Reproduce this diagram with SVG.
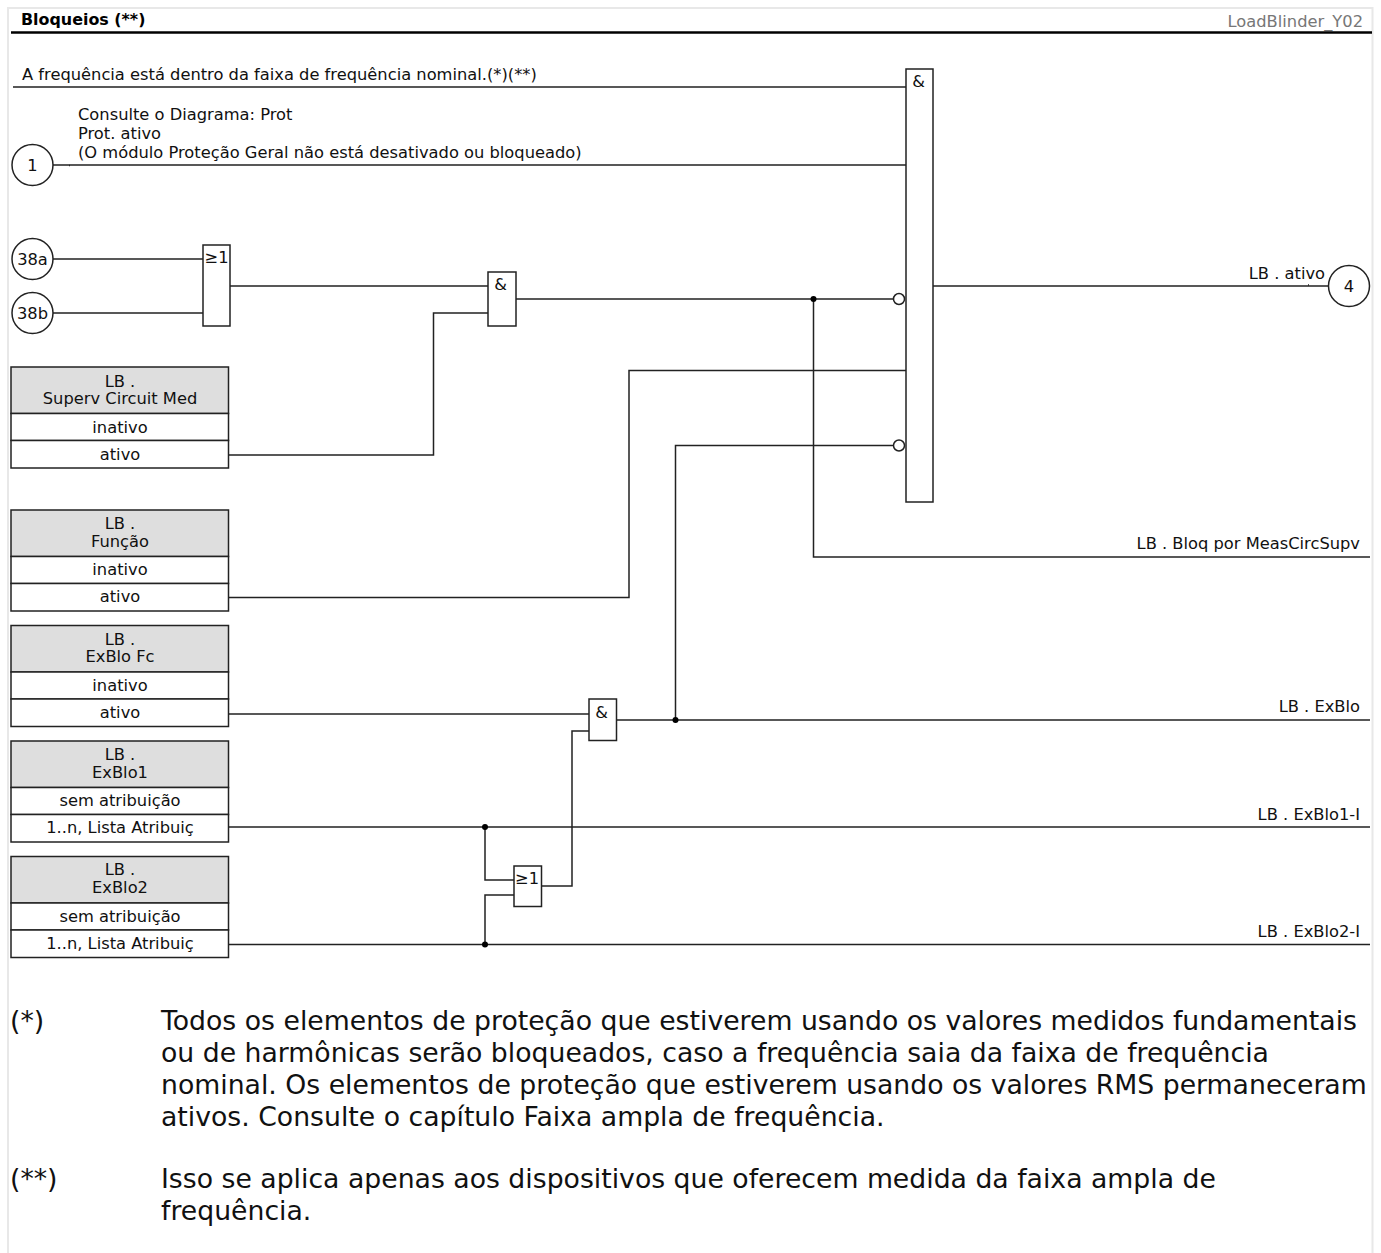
<svg xmlns="http://www.w3.org/2000/svg" width="1381" height="1253" viewBox="0 0 1381 1253">
<style>
text{font-family:"DejaVu Sans",sans-serif;font-size:16.3px;fill:#111}
.m{text-anchor:middle}
.e{text-anchor:end}
.n{font-size:26.7px}
.b{fill:#fff;stroke:#222;stroke-width:1.5}
.h{fill:#dedede;stroke:#222;stroke-width:1.5}
.w{fill:none;stroke:#222;stroke-width:1.5}
.d{fill:#000}
</style>
<defs>
<g id="box">
<rect class="h" x="11" y="0" width="217.500" height="46.500"/>
<rect class="b" x="11" y="46.500" width="217.500" height="27"/>
<rect class="b" x="11" y="73.500" width="217.500" height="27.500"/>
</g>
</defs>
<rect width="1381" height="1253" fill="#fff"/>
<path d="M8 1253V8H1372.500V1253" fill="none" stroke="#e8e8e8" stroke-width="2"/>
<g id="title">
<text x="21" y="25" style="font-weight:bold;font-size:15.9px;fill:#000">Bloqueios (**)</text>
<text x="1363" y="27" class="e" style="fill:#777">LoadBlinder_Y02</text>
<path d="M11 32.500H1372" stroke="#000" stroke-width="2.500"/>
</g>
<g id="connectors">
<path class="w" d="M13 87H906M53 165H906M53 259H203M53 313H203M230 286H488M516 299H893M229 455H433.500V313H488M229 597.500H629V370.500H906M933 286H1328.500M813.500 299V557H1370M229 714H589M617 720H1370M675.500 720V445.500H893M229 827H1370M229 944.500H1370M485 827V880H514M485 944.500V895H514M541.500 886H572V731H589"/>
<path class="w" d="M69 165.500h1M1308 285h1"/>
<circle class="d" cx="813.500" cy="299" r="3"/>
<circle class="d" cx="675.500" cy="720" r="3"/>
<circle class="d" cx="485" cy="827" r="3"/>
<circle class="d" cx="485" cy="944.500" r="3"/>
</g>
<g id="label-freq"><text x="22" y="80">A frequência está dentro da faixa de frequência nominal.(*)(**)</text></g>
<g id="label-prot"><text x="78" y="120">Consulte o Diagrama: Prot</text><text x="78" y="139">Prot. ativo</text><text x="78" y="158">(O módulo Proteção Geral não está desativado ou bloqueado)</text></g>
<g id="c1"><circle class="b" cx="32.500" cy="165" r="20.500"/><text class="m" x="32.500" y="171">1</text></g>
<g id="c38a"><circle class="b" cx="32.500" cy="259" r="20.500"/><text class="m" x="32.500" y="265">38a</text></g>
<g id="c38b"><circle class="b" cx="32.500" cy="313" r="20.500"/><text class="m" x="32.500" y="319">38b</text></g>
<g id="c4"><circle class="b" cx="1349" cy="286" r="20.500"/><text class="m" x="1349" y="292">4</text></g>
<g id="or1"><rect class="b" x="203" y="245" width="27" height="81"/><text class="m" x="216.500" y="263">≥1</text></g>
<g id="and1"><rect class="b" x="488" y="272" width="28" height="54"/><text class="m" x="500.500" y="290">&amp;</text></g>
<g id="and-main"><rect class="b" x="906" y="69" width="27" height="433"/><text class="m" x="918.500" y="87">&amp;</text>
<circle class="b" cx="899" cy="299" r="5.500"/><circle class="b" cx="899" cy="445.500" r="5.500"/></g>
<g id="and2"><rect class="b" x="589" y="699" width="27.500" height="41.500"/><text class="m" x="601.500" y="718">&amp;</text></g>
<g id="or2"><rect class="b" x="514" y="866" width="27.500" height="40.500"/><text class="m" x="527" y="884">≥1</text></g>
<g id="box-superv"><use href="#box" y="367"/><text class="m" x="120" y="386.500">LB .</text><text class="m" x="120" y="404">Superv Circuit Med</text><text class="m" x="120" y="433">inativo</text><text class="m" x="120" y="460">ativo</text></g>
<g id="box-funcao"><use href="#box" y="510"/><text class="m" x="120" y="529">LB .</text><text class="m" x="120" y="547">Função</text><text class="m" x="120" y="575">inativo</text><text class="m" x="120" y="602">ativo</text></g>
<g id="box-exblofc"><use href="#box" y="625.500"/><text class="m" x="120" y="644.500">LB .</text><text class="m" x="120" y="662">ExBlo Fc</text><text class="m" x="120" y="691">inativo</text><text class="m" x="120" y="718">ativo</text></g>
<g id="box-exblo1"><use href="#box" y="741"/><text class="m" x="120" y="759.500">LB .</text><text class="m" x="120" y="778">ExBlo1</text><text class="m" x="120" y="806">sem atribuição</text><text class="m" x="120" y="833">1..n, Lista Atribuiç</text></g>
<g id="box-exblo2"><use href="#box" y="856.500"/><text class="m" x="120" y="874.500">LB .</text><text class="m" x="120" y="893">ExBlo2</text><text class="m" x="120" y="922">sem atribuição</text><text class="m" x="120" y="949">1..n, Lista Atribuiç</text></g>
<g id="outputs"><text class="e" x="1325" y="279">LB . ativo</text><text class="e" x="1360" y="549">LB . Bloq por MeasCircSupv</text><text class="e" x="1360" y="712">LB . ExBlo</text><text class="e" x="1360" y="820">LB . ExBlo1-I</text><text class="e" x="1360" y="937">LB . ExBlo2-I</text></g>
<g id="notes">
<text class="n" x="10" y="1030">(*)</text>
<text class="n" x="161" y="1030">Todos os elementos de proteção que estiverem usando os valores medidos fundamentais</text>
<text class="n" x="161" y="1062">ou de harmônicas serão bloqueados, caso a frequência saia da faixa de frequência</text>
<text class="n" x="161" y="1094">nominal. Os elementos de proteção que estiverem usando os valores RMS permaneceram</text>
<text class="n" x="161" y="1126">ativos. Consulte o capítulo Faixa ampla de frequência.</text>
<text class="n" x="10" y="1188">(**)</text>
<text class="n" x="161" y="1188">Isso se aplica apenas aos dispositivos que oferecem medida da faixa ampla de</text>
<text class="n" x="161" y="1220">frequência.</text>
</g>
</svg>
